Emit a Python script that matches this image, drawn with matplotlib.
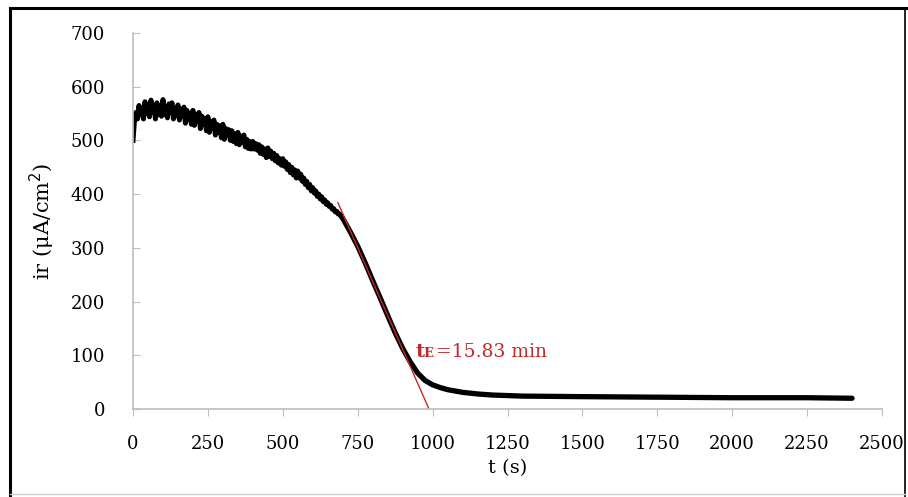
import numpy as np
import matplotlib
matplotlib.use("Agg")
from matplotlib import pyplot as plt
from matplotlib.lines import Line2D

# noisy start of the record, read every 5 s (0-695 s)
t_noisy = list(range(0, 700, 5))
ir_noisy = [500, 538, 552, 540, 565, 548, 560, 540, 572, 550,
            562, 544, 575, 552, 566, 540, 570, 548, 560, 545,
            576, 548, 563, 542, 568, 552, 570, 540, 558, 546,
            566, 538, 558, 545, 562, 532, 556, 540, 550, 530,
            556, 528, 548, 535, 552, 522, 545, 530, 540, 518,
            544, 515, 535, 522, 538, 510, 530, 515, 527, 505,
            530, 502, 522, 510, 520, 500, 518, 498, 512, 494,
            515, 492, 508, 497, 510, 488, 502, 485, 498, 484,
            498, 484, 494, 482, 492, 476, 488, 474, 484, 468,
            486, 470, 480, 466, 476, 462, 472, 458, 466, 454,
            466, 452, 460, 446, 455, 440, 450, 436, 445, 430,
            443, 430, 437, 424, 430, 418, 424, 412, 418, 406,
            412, 402, 406, 396, 400, 391, 395, 386, 389, 381,
            384, 377, 379, 372, 373, 367, 368, 363, 363, 359]

# smooth part of the record
t_smooth = [695, 700, 725, 750, 775, 800, 825, 850, 875, 900, 925, 950, 975,
            1000, 1025, 1050, 1100, 1150, 1200, 1300, 1500, 1750, 2000, 2250, 2400]
ir_smooth = [359, 355, 330, 303, 272, 239, 207, 174, 142, 113, 88, 67, 53,
             45, 40, 36, 31, 28, 26, 24, 23, 22, 21, 21, 20]

# tangent used for the end point
t_tan = [684, 988]
ir_tan = [384, 0]

x_ticks = [0, 250, 500, 750, 1000, 1250, 1500, 1750, 2000, 2250, 2500]
y_ticks = [0, 100, 200, 300, 400, 500, 600, 700]

red = '#c62828'
grey = '#bdbdbd'
plt.rcParams['font.family'] = ['DejaVu Serif']

fig = plt.figure(figsize=(9.08, 4.97), dpi=100)
ax = fig.add_axes([133 / 908, 1 - 409 / 497, 749 / 908, 376 / 497])

ax.plot(t_noisy, ir_noisy, color='black', lw=3.6, solid_joinstyle='round')
ax.plot(t_smooth, ir_smooth, color='black', lw=3.8, solid_capstyle='round')
ax.plot(t_tan, ir_tan, color=red, lw=1.0)

ax.text(942, 106, "t", color=red, fontsize=14, fontweight='bold', va='center')
ax.text(970, 104, "E", color=red, fontsize=9.5, fontweight='bold', va='center')
ax.text(1012, 106, "=15.83 min", color=red, fontsize=13.5, va='center')

ax.set_xlim(0, 2500)
ax.set_ylim(0, 700)
ax.set_xticks(x_ticks)
ax.set_yticks(y_ticks)
ax.tick_params(axis='x', direction='out', length=5, color=grey, pad=14, labelsize=13)
ax.tick_params(axis='y', direction='in', length=5, color=grey, pad=20, labelsize=13)
for s in ['top', 'right']:
    ax.spines[s].set_visible(False)
for s in ['left', 'bottom']:
    ax.spines[s].set_color(grey)
    ax.spines[s].set_linewidth(1.2)

ax.set_xlabel("t (s)", fontsize=14, labelpad=4)
ax.set_ylabel("ir (μA/cm$^2$)", fontsize=15, labelpad=10)

# frame of the original screenshot
fig.add_artist(Line2D([10 / 908, 10 / 908], [0, 1 - 8 / 497], color='black', lw=2.2))
fig.add_artist(Line2D([10 / 908, 1], [1 - 8 / 497, 1 - 8 / 497], color='black', lw=2.2))
fig.add_artist(Line2D([905 / 908, 905 / 908], [0, 1 - 8 / 497], color='black', lw=1.2))
fig.add_artist(Line2D([10 / 908, 905 / 908], [1 - 494 / 497, 1 - 494 / 497], color='#cccccc', lw=1))

fig.savefig("out.png", dpi=100)
